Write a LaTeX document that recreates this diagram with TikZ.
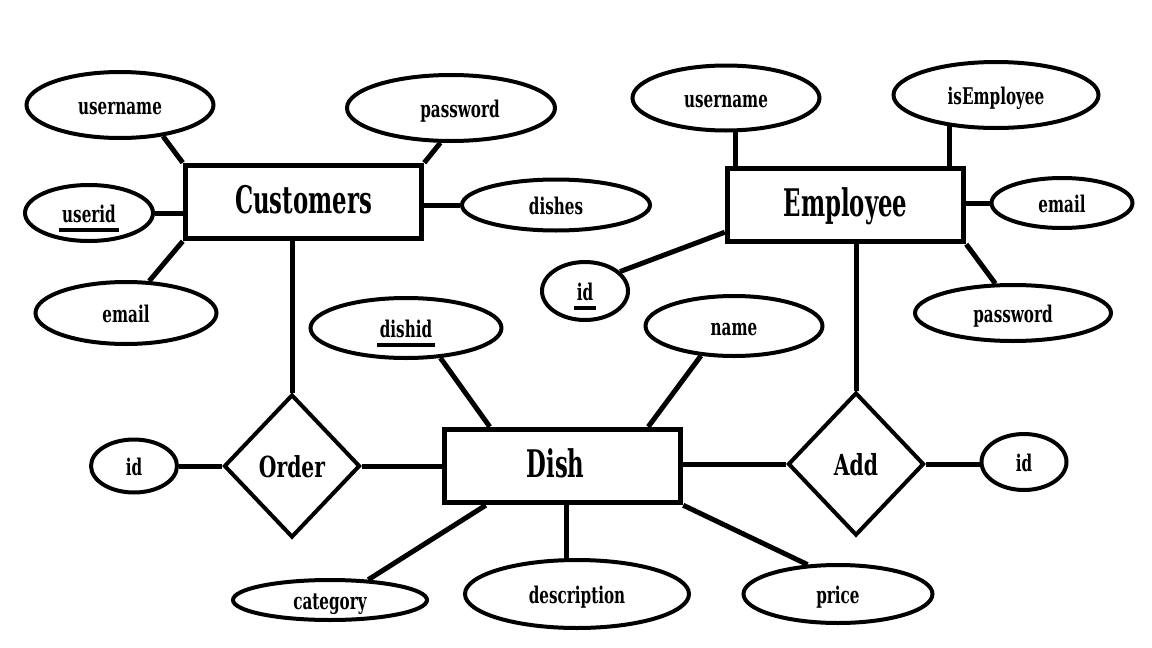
\documentclass[tikz,border=0pt]{standalone}
\usepackage{fontspec}
\usetikzlibrary{shapes.geometric,calc}
\newfontfamily\lblf{DejaVu Serif}[FakeStretch=0.66]
\newfontfamily\relf{DejaVu Serif}[FakeStretch=0.7]
\newfontfamily\entf{DejaVu Serif}[FakeStretch=0.6]
\newcommand\ulword[1]{\setbox0\hbox{#1}\rlap{\hspace{-3pt}\smash{\rule[-10pt]{\dimexpr\wd0+6pt\relax}{4pt}}}\box0}
\begin{document}
\begin{tikzpicture}[x=1pt,y=-1pt,
 ent/.style={draw, line width=5.5pt, rectangle, minimum width=236pt, minimum height=73pt, inner sep=0pt, text height=30pt, text depth=8pt, font=\entf\bfseries\fontsize{38}{38}\selectfont},
 rel/.style={draw, line width=4pt, diamond, minimum width=136pt, minimum height=143pt, inner sep=0pt, text height=24pt, text depth=2pt, font=\relf\bfseries\fontsize{29}{29}\selectfont},
 attr/.style={draw, line width=4pt, ellipse, inner sep=0pt, text height=20pt, text depth=2pt, font=\lblf\bfseries\fontsize{23}{23}\selectfont},
 link/.style={line width=5pt}]
\useasboundingbox[fill=white] (0,0) rectangle (1152,648);
% entities and relations
\node[ent] (cust) at (303.5,202) {Customers};
\node[ent] (emp) at (845.5,205) {Employee};
\node[ent] (dish) at (562.5,466) {\hspace*{-14pt}Dish};
\node[rel] (order) at (292,466) {Order};
\node[rel] (add) at (856,464) {Add};
% attributes
\node[attr, minimum width=187pt, minimum height=66pt] (cu) at (120,105) {username};
\node[attr, minimum width=208pt, minimum height=66pt] (cp) at (451,108) {\hspace*{18pt}password};
\node[attr, minimum width=128pt, minimum height=56pt] (cid) at (89,213) {\ulword{userid}};
\node[attr, minimum width=188pt, minimum height=51pt] (cd) at (556,205) {dishes};
\node[attr, minimum width=181pt, minimum height=62pt] (ce) at (126,313) {email};
\node[attr, minimum width=187pt, minimum height=65pt] (ue) at (726,98) {username};
\node[attr, minimum width=205pt, minimum height=66pt] (ie) at (996,95) {isEmployee};
\node[attr, minimum width=141pt, minimum height=50pt] (ee) at (1062,203) {email};
\node[attr, minimum width=86pt, minimum height=58pt] (eid) at (585,291) {\ulword{id}};
\node[attr, minimum width=196pt, minimum height=56pt] (ep) at (1013,313) {password};
\node[attr, minimum width=191pt, minimum height=60pt] (did) at (406,328) {\ulword{dishid}};
\node[attr, minimum width=177pt, minimum height=60pt] (dn) at (734,326) {name};
\node[attr, minimum width=86pt, minimum height=53pt] (ido) at (134,466) {id};
\node[attr, minimum width=85pt, minimum height=56pt] (ida) at (1024,462) {id};
\node[attr, minimum width=194pt, minimum height=40pt] (cat) at (330,600) {category};
\node[attr, minimum width=224pt, minimum height=68pt] (de) at (577,594) {description};
\node[attr, minimum width=189pt, minimum height=58pt] (pr) at (838,594) {price};
% connectors
\draw[link] (cu.-36) -- (cust.north west);
\draw[link] (cp.-107) -- (cust.north east);
\draw[link] (cid.east) -- (cid.east -| cust.west);
\draw[link] (cd.west) -- (cd.west -| cust.east);
\draw[link] (ce.54) -- (cust.south west);
\draw[link] (order.north) -- (order.north |- cust.south);
\draw[link] (ido.east) -- (order.west);
\draw[link] (order.east) -- (order.east -| dish.west);
\draw[link] (did.-41) -- ($(dish.north west)+(48,0)$);
\draw[link] (dn.-138) -- ($(dish.north east)+(-35,0)$);
\draw[link] (add.west -| dish.east) -- (add.west);
\draw[link] (add.east) -- (add.east -| ida.west);
\draw[link] (add.north) -- (add.north |- emp.south);
\draw[link] (ue.-74) -- (ue.-74 |- emp.north);
\draw[link] (ie.-146) -- (ie.-146 |- emp.north);
\draw[link] (ee.west) -- (ee.west -| emp.east);
\draw[link] (eid.29) -- ($(emp.south west)+(0,-12)$);
\draw[link] (ep.121) -- (emp.south east);
\draw[link] (cat.28) -- ($(dish.south west)+(44,0)$);
\draw[link] (de.107) -- (de.107 |- dish.south);
\draw[link] (pr.136) -- (dish.south east);
\end{tikzpicture}
\end{document}
